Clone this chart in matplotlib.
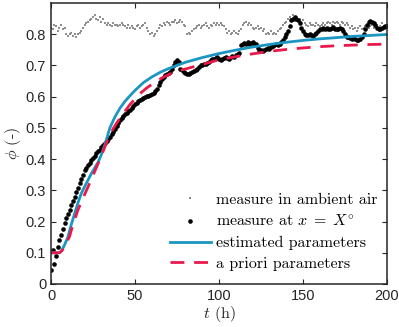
import numpy as np
import matplotlib
matplotlib.use('Agg')
import matplotlib.pyplot as plt

# ambient air measurement (sampled every hour, 0..200 h)
phi_ambient = [
    0.82, 0.815, 0.83, 0.825, 0.81, 0.82, 0.83, 0.815, 0.82,
    0.80, 0.795, 0.80, 0.805, 0.795, 0.80, 0.79, 0.80, 0.805, 0.81,
    0.82, 0.83, 0.835, 0.84, 0.845,
    0.85, 0.855, 0.86, 0.85, 0.845, 0.855, 0.84, 0.85, 0.835,
    0.83, 0.835, 0.83, 0.825, 0.835, 0.83, 0.83, 0.825, 0.83, 0.835,
    0.83, 0.825, 0.82, 0.83, 0.82, 0.825, 0.82, 0.815, 0.825, 0.83, 0.82, 0.825, 0.83, 0.835, 0.82, 0.81,
    0.80, 0.805, 0.795, 0.80, 0.81, 0.82,
    0.83, 0.825, 0.835, 0.83, 0.84, 0.835, 0.83, 0.84,
    0.84, 0.845, 0.835, 0.84, 0.845, 0.84, 0.83, 0.825,
    0.80, 0.805, 0.80, 0.81, 0.815,
    0.82, 0.825, 0.83, 0.82, 0.825, 0.83, 0.835, 0.825, 0.82, 0.83, 0.825, 0.835, 0.83, 0.835, 0.83,
    0.835, 0.83, 0.825, 0.815,
    0.805, 0.81, 0.80, 0.805, 0.81, 0.805, 0.80, 0.81, 0.815,
    0.83, 0.835, 0.84, 0.83, 0.835, 0.83,
    0.82, 0.815, 0.82, 0.825, 0.815, 0.82, 0.81, 0.815,
    0.80, 0.805, 0.80, 0.81, 0.80, 0.805, 0.80, 0.81, 0.815,
    0.82, 0.83, 0.835, 0.84, 0.85, 0.855, 0.85,
    0.86, 0.855, 0.85, 0.845, 0.85, 0.84, 0.845, 0.835,
    0.83, 0.825, 0.835, 0.83, 0.83, 0.825, 0.835, 0.83, 0.825, 0.83, 0.835, 0.83,
    0.835, 0.84, 0.835, 0.83, 0.84, 0.835, 0.84, 0.835, 0.83, 0.84, 0.835, 0.83, 0.835, 0.83,
    0.82, 0.825, 0.815, 0.82, 0.81, 0.82, 0.825, 0.815, 0.82, 0.825, 0.815, 0.82,
    0.825, 0.83, 0.82, 0.825, 0.83, 0.82, 0.825, 0.835, 0.825, 0.82, 0.83,
]

# measurement at x = X (sampled every hour, 0..200 h)
phi_meas = [
    0.045, 0.11, 0.065, 0.09, 0.12, 0.14, 0.157, 0.175, 0.195, 0.21,
    0.225, 0.237, 0.252, 0.266, 0.28, 0.294, 0.308, 0.322, 0.336, 0.35,
    0.364, 0.372, 0.38, 0.388, 0.396, 0.402, 0.41, 0.418, 0.425, 0.43,
    0.438, 0.445, 0.452, 0.458, 0.464, 0.47, 0.479, 0.488, 0.497, 0.506,
    0.515, 0.524, 0.53, 0.537, 0.543, 0.549, 0.553, 0.556, 0.562, 0.57,
    0.576, 0.581, 0.585, 0.588, 0.592, 0.595, 0.598, 0.601, 0.603, 0.604,
    0.608, 0.613, 0.619, 0.625, 0.638, 0.648, 0.655, 0.662, 0.668, 0.672,
    0.676, 0.68, 0.69, 0.70, 0.71, 0.716, 0.712, 0.69, 0.685, 0.68,
    0.676, 0.674, 0.673, 0.676, 0.68, 0.682, 0.684, 0.69, 0.695, 0.70,
    0.702, 0.704, 0.705, 0.708, 0.712, 0.716, 0.72, 0.722, 0.724, 0.727,
    0.72, 0.718, 0.722, 0.725, 0.728, 0.724, 0.72, 0.726, 0.73, 0.728,
    0.732, 0.735, 0.74, 0.765, 0.77, 0.772, 0.768, 0.775, 0.77, 0.772,
    0.775, 0.77, 0.768, 0.755, 0.75, 0.748, 0.745, 0.748, 0.752, 0.755,
    0.752, 0.758, 0.762, 0.765, 0.768, 0.764, 0.77, 0.775, 0.78, 0.79,
    0.80, 0.81, 0.825, 0.845, 0.85, 0.855, 0.848, 0.845, 0.835, 0.82,
    0.81, 0.80, 0.798, 0.796, 0.80, 0.798, 0.795, 0.80, 0.805, 0.81,
    0.815, 0.818, 0.82, 0.817, 0.82, 0.815, 0.818, 0.82, 0.822, 0.818,
    0.815, 0.818, 0.82, 0.817, 0.81, 0.80, 0.792, 0.79, 0.788, 0.785,
    0.79, 0.786, 0.782, 0.78, 0.785, 0.79, 0.80, 0.815, 0.83, 0.838,
    0.842, 0.84, 0.835, 0.828, 0.82, 0.816, 0.818, 0.82, 0.822, 0.825,
    0.825,
]

# model with estimated parameters
t_est = [0, 5, 6, 8, 10, 12, 14, 16, 18, 20, 22, 24, 26, 28, 30, 32, 35, 38, 41, 44,
         47, 50, 55, 60, 65, 70, 75, 80, 90, 100, 110, 120, 130, 140, 150, 160, 170,
         180, 190, 200]
phi_est = [0.10, 0.10, 0.104, 0.125, 0.15, 0.19, 0.225, 0.26, 0.29, 0.312, 0.333,
           0.354, 0.372, 0.39, 0.415, 0.445, 0.50, 0.535, 0.563, 0.585, 0.603, 0.620,
           0.645, 0.663, 0.678, 0.690, 0.700, 0.710, 0.725, 0.738, 0.749, 0.759,
           0.767, 0.774, 0.780, 0.785, 0.789, 0.793, 0.796, 0.799]

# model with a priori parameters
t_apr = [0, 5, 7, 9, 11, 13, 16, 19, 22, 25, 28, 31, 35, 39, 43, 47, 50, 53, 57, 61,
         66, 71, 77, 83, 90, 100, 110, 120, 130, 140, 150, 160, 170, 180, 190, 200]
phi_apr = [0.10, 0.10, 0.11, 0.13, 0.152, 0.19, 0.237, 0.275, 0.311, 0.348, 0.386,
           0.425, 0.48, 0.515, 0.546, 0.575, 0.593, 0.61, 0.628, 0.643, 0.66, 0.673,
           0.684, 0.693, 0.703, 0.718, 0.728, 0.737, 0.745, 0.751, 0.756, 0.760,
           0.763, 0.765, 0.767, 0.768]

t_ambient = np.linspace(0, 200, len(phi_ambient))
t_meas = np.linspace(0, 200, len(phi_meas))

plt.rcParams['mathtext.fontset'] = 'cm'
plt.rcParams['font.family'] = ['Liberation Sans', 'DejaVu Sans']

fig = plt.figure(figsize=(3.99, 3.27), dpi=100)
ax = fig.add_axes([0.128, 0.1315, 0.842, 0.8595])

ax.plot(t_ambient, phi_ambient, linestyle='none', marker='s', ms=1.8, mew=0,
        color='#8f8f8f', label='measure in ambient air')
ax.plot(t_meas, phi_meas, linestyle='none', marker='o', ms=3.3, mew=0,
        color='black', label=r'measure at $x\;=\;X^{\circ}$')
ax.plot(t_est, phi_est, color='#1b96c2', lw=2.0, label='estimated parameters')
ax.plot(t_apr, phi_apr, color='#e8194b', lw=2.0, dashes=(5, 3.5),
        label='a priori parameters')

ax.set_xlim(0, 200)
ax.set_ylim(0, 0.9)
ax.set_xticks([0, 50, 100, 150, 200])
ax.set_yticks([0, 0.1, 0.2, 0.3, 0.4, 0.5, 0.6, 0.7, 0.8])
ax.set_yticklabels(['0', '0.1', '0.2', '0.3', '0.4', '0.5', '0.6', '0.7', '0.8'])
ax.tick_params(direction='in', top=True, right=True, length=3.5, width=0.8,
               labelsize=10.5, colors='#262626')
for s in ax.spines.values():
    s.set_linewidth(1.1)
    s.set_color('#262626')

ax.set_xlabel(r'$t$ (h)', fontsize=11.5, family='cmr10', color='#262626', labelpad=1)
ax.set_ylabel(r'$\phi$ (-)', fontsize=11.5, family='cmr10', color='#262626', labelpad=2)

leg = ax.legend(loc='lower right', bbox_to_anchor=(1.0, 0.012), frameon=False,
                prop={'family': 'cmr10', 'size': 11.5}, handlelength=2.6,
                handletextpad=0.3, labelspacing=0.42, borderaxespad=0.2)

fig.savefig('out.png', dpi=100)
